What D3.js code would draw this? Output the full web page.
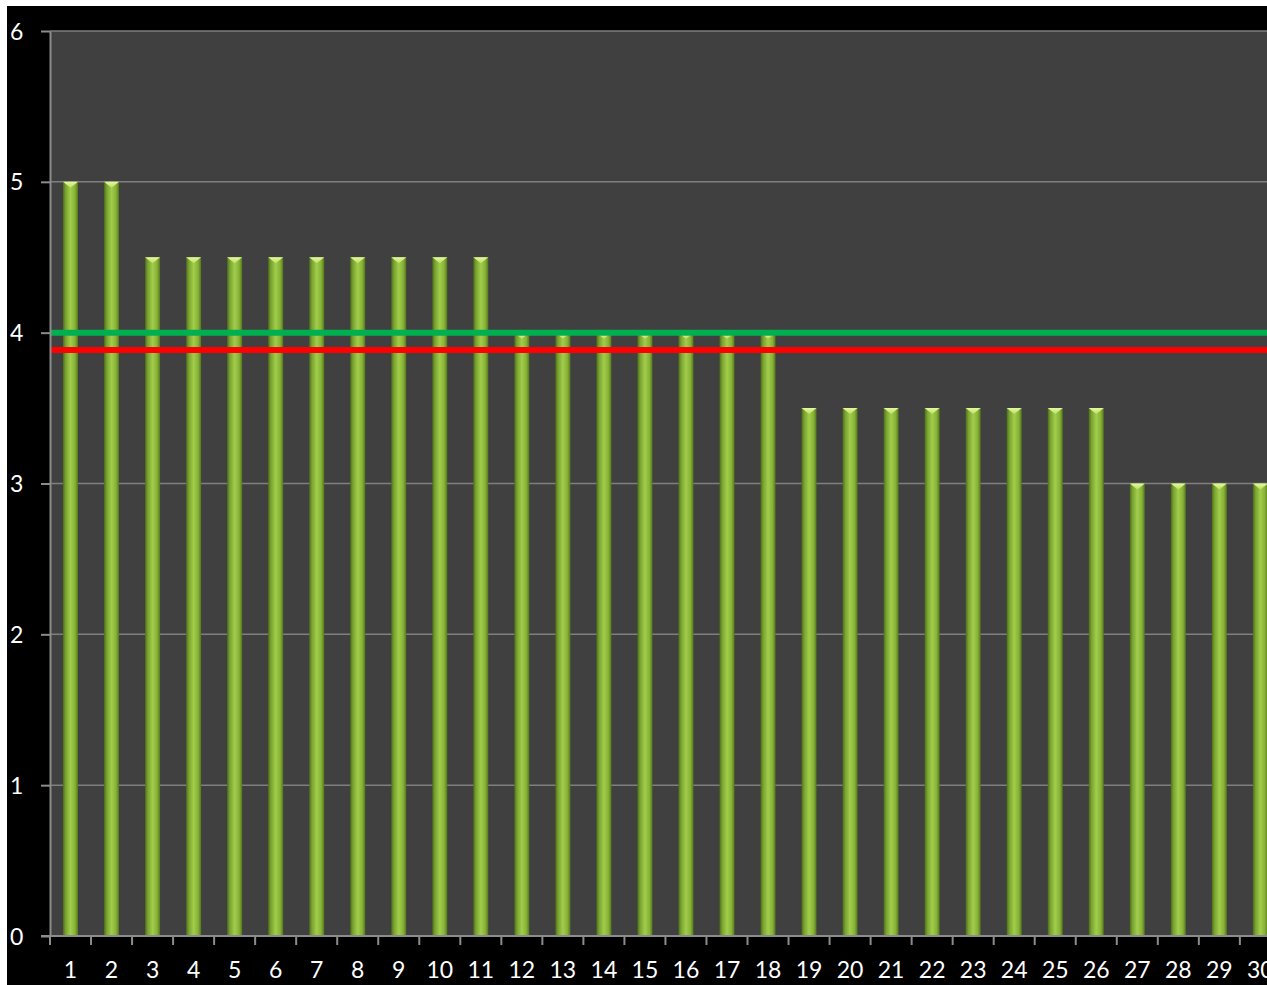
<!DOCTYPE html>
<html>
<head>
<meta charset="utf-8">
<script src="https://cdn.jsdelivr.net/npm/d3@7"></script>
<style>
  html, body { margin: 0; padding: 0; background: #ffffff; overflow: hidden; }
  svg { display: block; }
</style>
</head>
<body>
<div id="viz"></div>
<script>
// chart values
var categories = d3.range(1, 31).map(String);
var values = [5, 5, 4.5, 4.5, 4.5, 4.5, 4.5, 4.5, 4.5, 4.5, 4.5,
              4, 4, 4, 4, 4, 4, 4,
              3.5, 3.5, 3.5, 3.5, 3.5, 3.5, 3.5, 3.5,
              3, 3, 3, 3];
var yTicks = [0, 1, 2, 3, 4, 5, 6];
var targetLine = 4;      // green
var averageLine = 3.885; // red

var W = 1267, H = 985;
var plotLeft = 50, plotTop = 31, plotBottom = 936;
var step = 41.03;
var plotRight = plotLeft + step * categories.length; // runs past the window edge

var svg = d3.select("#viz").append("svg")
  .attr("width", W)
  .attr("height", H);

var defs = svg.append("defs");
var g1 = defs.append("linearGradient").attr("id", "barGrad")
  .attr("x1", "0%").attr("x2", "100%").attr("y1", "0%").attr("y2", "0%");
[[0, "#4f6e1a"], [0.18, "#78a330"], [0.5, "#a2cd4b"], [0.8, "#86b236"], [1, "#56771c"]]
  .forEach(function(s) { g1.append("stop").attr("offset", s[0]).attr("stop-color", s[1]); });

var g2 = defs.append("linearGradient").attr("id", "capGrad")
  .attr("x1", "0%").attr("x2", "0%").attr("y1", "0%").attr("y2", "100%");
[[0, "#e4f7a0"], [1, "#bcdf63"]]
  .forEach(function(s) { g2.append("stop").attr("offset", s[0]).attr("stop-color", s[1]); });

// black frame
svg.append("rect")
  .attr("x", 7).attr("y", 6)
  .attr("width", W - 7).attr("height", H - 6)
  .style("fill", "#000");

var x = d3.scaleBand()
  .domain(categories)
  .range([plotLeft, plotRight])
  .paddingInner(0.635)
  .paddingOuter(0.3175);

var y = d3.scaleLinear()
  .domain([0, 6])
  .range([plotBottom, plotTop]);

// plot area
svg.append("rect")
  .attr("x", plotLeft).attr("y", plotTop)
  .attr("width", plotRight - plotLeft).attr("height", plotBottom - plotTop)
  .style("fill", "#404040");

// grid lines
svg.append("g").selectAll("line")
  .data(yTicks.filter(function(d) { return d > 0; }))
  .enter().append("line")
  .attr("x1", plotLeft).attr("x2", plotRight)
  .attr("y1", function(d) { return y(d); })
  .attr("y2", function(d) { return y(d); })
  .style("stroke", "#7f7f7f")
  .style("stroke-width", 1.5);

// bars
var bars = svg.append("g").selectAll("g")
  .data(values)
  .enter().append("g");

bars.append("rect")
  .attr("x", function(d, i) { return x(categories[i]); })
  .attr("y", function(d) { return y(d); })
  .attr("width", x.bandwidth())
  .attr("height", function(d) { return plotBottom - y(d); })
  .style("fill", "url(#barGrad)");

bars.append("path")
  .attr("d", function(d, i) {
    var x0 = x(categories[i]), bw = x.bandwidth(), t = y(d);
    return "M" + x0 + "," + t + "L" + (x0 + bw) + "," + t +
           "L" + (x0 + bw / 2) + "," + (t + 6) + "Z";
  })
  .style("fill", "url(#capGrad)");

// reference lines
svg.append("line")
  .attr("x1", plotLeft).attr("x2", plotRight)
  .attr("y1", y(targetLine)).attr("y2", y(targetLine))
  .style("stroke", "#00b050")
  .style("stroke-width", 6);

svg.append("line")
  .attr("x1", plotLeft + 1).attr("x2", plotRight)
  .attr("y1", y(averageLine)).attr("y2", y(averageLine))
  .style("stroke", "#ff0000")
  .style("stroke-width", 6);

// axes
var font = "Lato, 'Open Sans', sans-serif";

var yAxis = svg.append("g")
  .attr("transform", "translate(" + plotLeft + ",0)")
  .call(d3.axisLeft(y).tickValues(yTicks).tickSize(9).tickSizeOuter(0).tickFormat(d3.format("d")));
yAxis.select(".domain").style("stroke", "#8c8c8c").style("stroke-width", 2);
yAxis.selectAll(".tick line").style("stroke", "#8c8c8c").style("stroke-width", 2);
yAxis.selectAll(".tick text")
  .attr("x", -40)
  .attr("dy", "0.35em")
  .style("text-anchor", "start")
  .style("fill", "#fff")
  .style("font-family", font)
  .style("font-size", "23px");

var xAxis = svg.append("g")
  .attr("transform", "translate(0," + plotBottom + ")");
xAxis.append("line")
  .attr("x1", plotLeft - 9).attr("x2", plotRight)
  .style("stroke", "#8c8c8c").style("stroke-width", 2);
xAxis.selectAll(".xt")
  .data(d3.range(categories.length + 1))
  .enter().append("line")
  .attr("class", "xt")
  .attr("x1", function(k) { return plotLeft + k * x.step(); })
  .attr("x2", function(k) { return plotLeft + k * x.step(); })
  .attr("y1", 0).attr("y2", 9)
  .style("stroke", "#8c8c8c").style("stroke-width", 2);
xAxis.selectAll("text")
  .data(categories)
  .enter().append("text")
  .attr("x", function(d) { return x(d) + x.bandwidth() / 2; })
  .attr("y", 42)
  .style("text-anchor", "middle")
  .style("fill", "#fff")
  .style("font-family", font)
  .style("font-size", "23px")
  .text(function(d) { return d; });
</script>
</body>
</html>
